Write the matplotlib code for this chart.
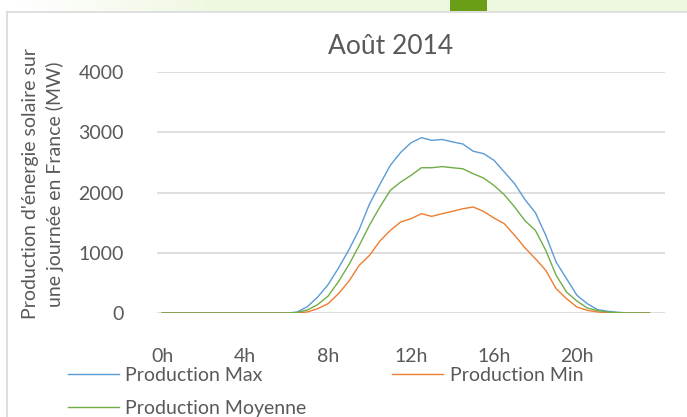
import numpy as np
import matplotlib
matplotlib.use('Agg')
import matplotlib.pyplot as plt
from matplotlib.lines import Line2D

# Données : production solaire (MW) par demi-heure, août 2014
heures = [i * 0.5 for i in range(48)]
prod_max = [0, 0, 0, 0, 0, 0, 0, 0, 0, 0, 0, 0, 0, 15, 105, 265, 470, 745, 1045, 1385,
            1810, 2135, 2450, 2665, 2825, 2910, 2865, 2880, 2840, 2805, 2685, 2645,
            2535, 2340, 2145, 1880, 1665, 1290, 845, 570, 295, 155, 55, 28, 11, 0, 0, 0]
prod_min = [0, 0, 0, 0, 0, 0, 0, 0, 0, 0, 0, 0, 0, 3, 17, 72, 155, 320, 525, 790,
            957, 1195, 1370, 1510, 1565, 1648, 1604, 1648, 1687, 1731, 1759, 1687,
            1576, 1482, 1288, 1080, 901, 708, 404, 238, 100, 44, 17, 5, 0, 0, 0, 0]
prod_moy = [0, 0, 0, 0, 0, 0, 0, 0, 0, 0, 0, 0, 0, 8, 50, 140, 280, 520, 800, 1120,
            1460, 1760, 2035, 2173, 2284, 2411, 2411, 2430, 2411, 2394, 2312, 2240,
            2118, 1963, 1759, 1530, 1371, 1040, 625, 348, 199, 83, 39, 17, 5, 0, 0, 0]

ticks_x = [0, 4, 8, 12, 16, 20]
labels_x = ['0h', '4h', '8h', '12h', '16h', '20h']
ticks_y = [0, 1000, 2000, 3000, 4000]

plt.rcParams['font.family'] = ['Lato', 'DejaVu Sans']
gris = '#595959'

W, H = 687, 417
fig = plt.figure(figsize=(W / 100, H / 100), dpi=100)

# fond : bande verte en haut de la diapositive
bg = fig.add_axes([0, 0, 1, 1], zorder=-10)
img = np.ones((H, W, 3))
xs = np.arange(W)
t = np.clip((xs - 20) / 200, 0, 1)
bande = np.stack([1 - t * 0.065, 1 - t * 0.03, 1 - t * 0.12], axis=1)
img[:11, :, :] = bande[None, :, :]
img[:11, 450:487, :] = np.array([107, 158, 23]) / 255
bg.imshow(img, extent=(0, W, H, 0), aspect='auto', interpolation='nearest')
bg.set_xlim(0, W)
bg.set_ylim(H, 0)
bg.axis('off')
bg.add_line(Line2D([7, 7], [11.5, H], color='#D9D9D9', lw=1.2))
bg.add_line(Line2D([7, W], [11.5, 11.5], color='#D9D9D9', lw=1.2))

ax = fig.add_axes([157 / W, 1 - 313 / H, (665 - 157) / W, (313 - 72) / H])
l_max, = ax.plot(heures, prod_max, color='#5B9BD5', lw=1.0, label='Production Max')
l_min, = ax.plot(heures, prod_min, color='#ED7D31', lw=1.0, label='Production Min')
l_moy, = ax.plot(heures, prod_moy, color='#70AD47', lw=1.0, label='Production Moyenne')

ax.set_xlim(-0.25, 24.25)
ax.set_ylim(0, 4000)
ax.set_yticks(ticks_y)
ax.set_xticks(ticks_x)
ax.set_xticklabels(labels_x)
ax.grid(axis='y', color='#D9D9D9', lw=1.2)
ax.set_axisbelow(True)
for s in ax.spines.values():
    s.set_visible(False)
ax.tick_params(axis='both', length=0, labelsize=14, labelcolor=gris)
ax.tick_params(axis='y', pad=24)
ax.tick_params(axis='x', pad=25)
ax.set_facecolor('none')

fig.text(391 / W, 1 - 47 / H, 'Août 2014', ha='center', va='center', fontsize=19, color=gris)
fig.text(43 / W, 1 - 184 / H, "Production d'énergie solaire sur\nune journée en France (MW)",
         rotation=90, ha='center', va='center', multialignment='center',
         fontsize=14, color=gris, linespacing=1.5)

leg = ax.legend([l_max, l_moy, l_min], ['Production Max', 'Production Moyenne', 'Production Min'],
                ncol=2, loc='upper left', bbox_to_anchor=(68 / W, 1 - 367 / H),
                bbox_transform=fig.transFigure, frameon=False, fontsize=14,
                handlelength=2.6, handletextpad=0.35, columnspacing=4.4,
                labelspacing=0.8, borderpad=0, borderaxespad=0)
for txt in leg.get_texts():
    txt.set_color(gris)

fig.savefig('out.png', dpi=100)
